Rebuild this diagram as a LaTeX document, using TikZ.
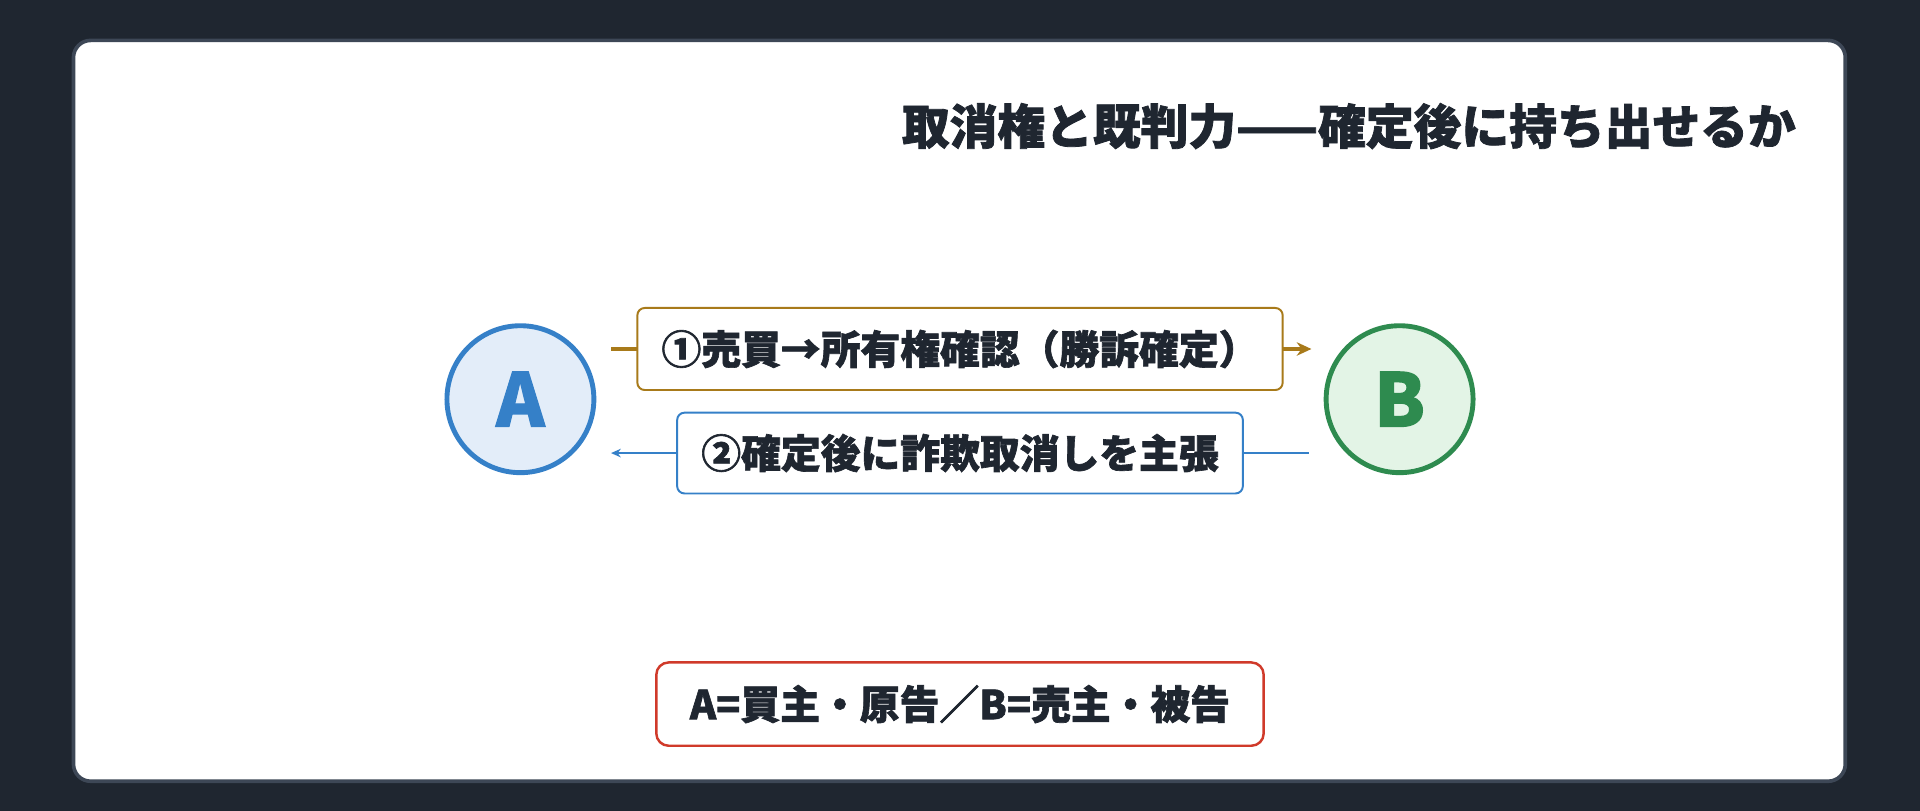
\documentclass[tikz,border=0pt]{standalone}
\usepackage{fontspec}
\setmainfont{Noto Sans CJK JP}[BoldFeatures={FakeBold=1.6}]
\usetikzlibrary{arrows.meta}
\definecolor{bg}{HTML}{1F2630}
\definecolor{cardb}{HTML}{3D4756}
\definecolor{ink}{HTML}{1F2630}
\definecolor{blu}{HTML}{3580C8}
\definecolor{blufill}{HTML}{E3EDF9}
\definecolor{grn}{HTML}{2E8B4F}
\definecolor{grnfill}{HTML}{E3F4E6}
\definecolor{brn}{HTML}{A87A1A}
\definecolor{rd}{HTML}{D03A2A}
\tikzset{
 party/.style={circle,minimum size=120pt,line width=4pt,inner sep=0pt,font=\fontsize{60}{60}\selectfont\bfseries},
 lbl/.style={rounded corners=6pt,fill=white,line width=1.6pt,inner sep=0pt,font=\fontsize{32.5}{32.5}\selectfont\bfseries,text=ink},
}
\begin{document}
\begin{tikzpicture}[x=1pt,y=-1pt]
\useasboundingbox (0,0) rectangle (1568,662);
\fill[bg] (0,0) rectangle (1568,662);
\draw[cardb,fill=white,line width=3pt,rounded corners=14pt] (60,33) rectangle (1507,638);
\node[anchor=east,text=ink,font=\fontsize{39}{39}\selectfont\bfseries] (title) at (1470,103) {取消権と既判力——確定後に持ち出せるか};
\node[party,draw=blu,fill=blufill,text=blu] (A) at (425,326) {A};
\node[party,draw=grn,fill=grnfill,text=grn] (B) at (1143,326) {B};
\draw[brn,line width=4pt,-{Stealth[length=12pt,width=11pt]},shorten <=12pt,shorten >=10pt] ([yshift=41pt]A.east) -- ([yshift=41pt]B.west)
  node[lbl,draw=brn,pos=0.5,minimum width=527pt,minimum height=67pt] (l1) {①売買→所有権確認（勝訴確定）};
\draw[blu,line width=2pt,-{Stealth[length=8pt,width=7pt]},shorten <=12pt,shorten >=12pt] ([yshift=-44pt]B.west) -- ([yshift=-44pt]A.east)
  node[lbl,draw=blu,pos=0.5,minimum width=462pt,minimum height=66pt] (l2) {②確定後に詐欺取消しを主張};
\node[lbl,draw=rd,rounded corners=10pt,line width=2pt,minimum width=496pt,minimum height=68pt] (leg) at (784,575) {A=買主・原告／B=売主・被告};
\end{tikzpicture}
\end{document}
